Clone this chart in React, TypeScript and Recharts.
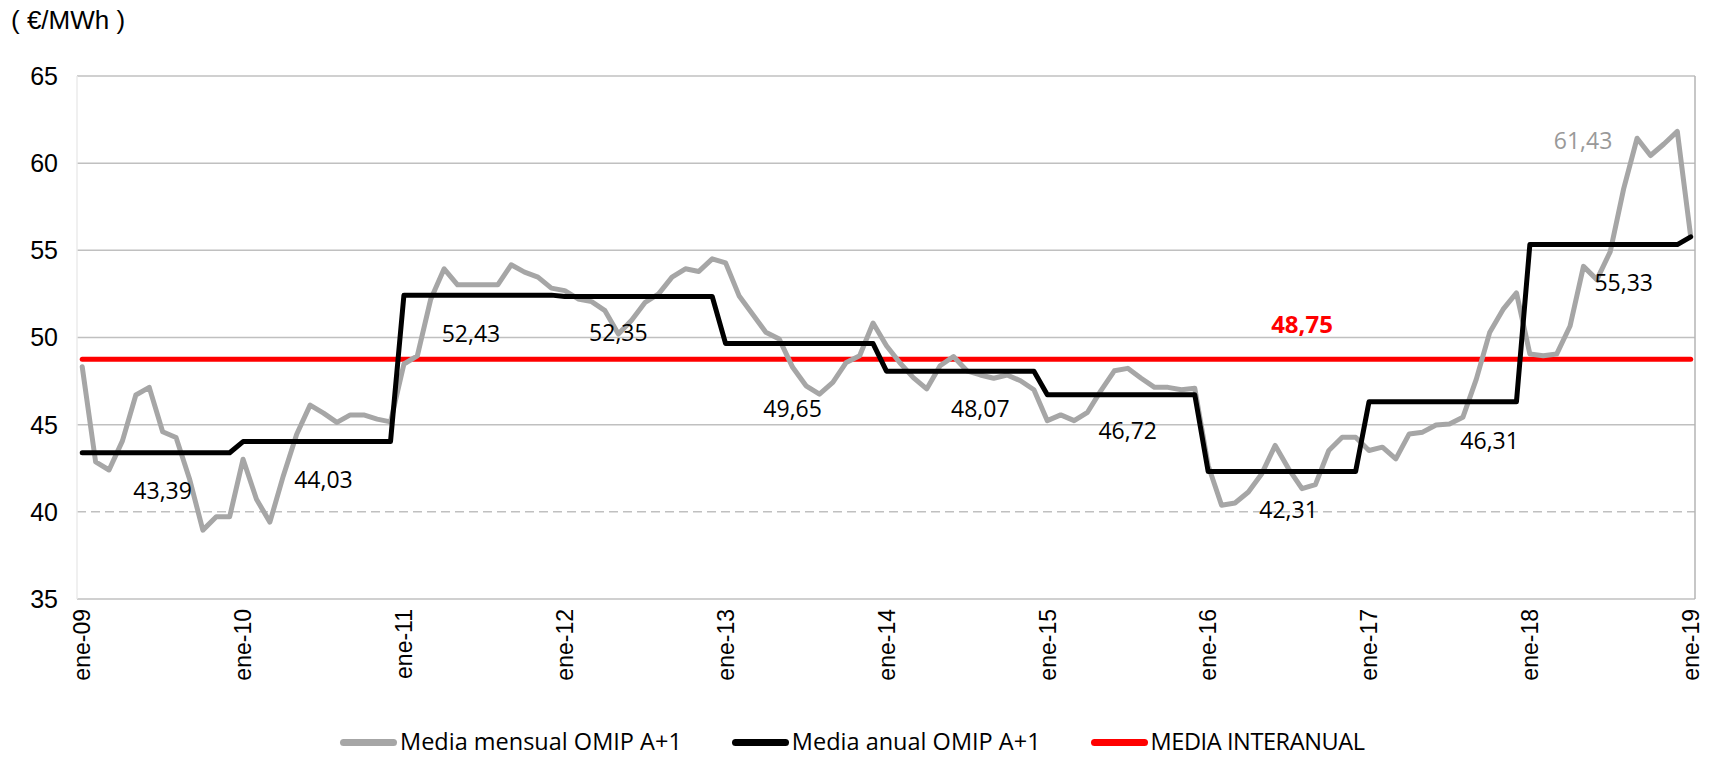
import { LineChart, Line, XAxis, YAxis, CartesianGrid, ReferenceLine, ReferenceDot, LabelList } from 'recharts';

// x axis: one tick per January
const tickIndex = [0, 12, 24, 36, 48, 60, 72, 84, 96, 108, 120];
const tickLabels = ['ene-09', 'ene-10', 'ene-11', 'ene-12', 'ene-13', 'ene-14', 'ene-15', 'ene-16', 'ene-17', 'ene-18', 'ene-19'];

// Media anual OMIP A+1, 2009 .. 2019
const annualMean = [43.39, 44.03, 52.43, 52.35, 49.65, 48.07, 46.72, 42.31, 46.31, 55.33, 55.77];

// Media mensual OMIP A+1, ene-09 .. ene-19
const monthlyMean = [
  48.32, 42.86, 42.4, 44.07, 46.7, 47.14, 44.59, 44.26, 41.9, 38.95, 39.72, 39.72,
  43.02, 40.72, 39.41, 42.06, 44.45, 46.12, 45.66, 45.13, 45.56, 45.56, 45.32, 45.16,
  48.48, 48.95, 52.2, 53.94, 53.02, 53.02, 53.02, 53.02, 54.17, 53.75, 53.46, 52.83,
  52.69, 52.21, 52.06, 51.54, 50.2, 51.0, 52.02, 52.5, 53.46, 53.94, 53.79, 54.51,
  54.28, 52.4, 51.35, 50.3, 49.91, 48.29, 47.23, 46.75, 47.42, 48.57, 48.95, 50.83,
  49.53, 48.55, 47.7, 47.05, 48.38, 48.91, 48.09, 47.85, 47.66, 47.85, 47.52, 47.0,
  45.23, 45.56, 45.23, 45.71, 46.95, 48.09, 48.23, 47.66, 47.14, 47.14, 47.0, 47.09,
  42.66, 40.38, 40.51, 41.14, 42.19, 43.81, 42.47, 41.33, 41.56, 43.52, 44.28, 44.28,
  43.52, 43.71, 43.04, 44.47, 44.57, 44.98, 45.04, 45.42, 47.6, 50.28, 51.61, 52.56,
  49.05, 48.95, 49.05, 50.66, 54.08, 53.32, 54.93, 58.54, 61.43, 60.44, 61.1, 61.82,
  55.79,
];

const interanualMean = 48.75;

// where the value labels sit (month index) and how far below the line
const annualLabelAt = [6, 18, 29, 40, 53, 67, 78, 90, 105, 115];
const annualLabelDy = [46, 46, 47, 44, 73, 46, 44, 46, 47, 46];
const monthlyLabelAt = 116;

const data = monthlyMean.map((v, i) => ({ i, mensual: v, anual: annualMean[Math.floor(i / 12)] }));

const fmt = (v: number) => v.toFixed(2).replace('.', ',');

const GRAY = '#a6a6a6';
const GRID = '#c0c0c0';

const AnnualLabel = (props: any) => {
  const k = annualLabelAt.indexOf(props.index);
  if (k < 0) return null;
  const x = props.x ?? props.viewBox?.x;
  const y = props.y ?? props.viewBox?.y;
  return (
    <text x={x} y={y + annualLabelDy[k]} textAnchor="middle" fontFamily="Open Sans" fontSize={23} fill="#000">
      {fmt(props.value)}
    </text>
  );
};

const MonthlyLabel = (props: any) => {
  if (props.index !== monthlyLabelAt) return null;
  const x = props.x ?? props.viewBox?.x;
  const y = props.y ?? props.viewBox?.y;
  return (
    <text x={x - 54} y={y + 11} textAnchor="middle" fontFamily="Open Sans" fontSize={23} fill="#999999">
      {fmt(props.value)}
    </text>
  );
};

const InteranualLabel = (props: any) => {
  const vb = props.viewBox || {};
  return (
    <text x={vb.x} y={vb.y - 26} textAnchor="middle" fontFamily="Open Sans" fontWeight={700} fontSize={24} fill="#ff0000">
      {fmt(interanualMean)}
    </text>
  );
};

const MonthTick = (props: any) => {
  const { x, y, payload } = props;
  const k = tickIndex.indexOf(payload.value);
  return (
    <text
      x={x}
      y={y}
      transform={`rotate(-90 ${x} ${y})`}
      textAnchor="end"
      dy="0.36em"
      fontFamily="Liberation Sans, Arial"
      fontSize={23}
      fill="#000"
    >
      {tickLabels[k]}
    </text>
  );
};

const legendItems = [
  { name: 'Media mensual OMIP A+1', color: GRAY },
  { name: 'Media anual OMIP A+1', color: '#000000' },
  { name: 'MEDIA INTERANUAL', color: '#ff0000' },
];

export default function App() {
  return (
    <div style={{ position: 'absolute', left: 0, top: 0, width: 1717, height: 760, background: '#fff' }}>
      <div
        style={{
          position: 'absolute',
          left: 11,
          top: 5,
          fontFamily: 'Liberation Sans, Arial',
          fontSize: 26,
          color: '#000',
          whiteSpace: 'pre',
        }}
      >
        ( €/MWh )
      </div>

      <LineChart width={1717} height={760} data={data} margin={{ top: 76, right: 22, left: 0, bottom: 71 }}>
        <CartesianGrid vertical={false} horizontalValues={[35, 45, 50, 55, 60, 65]} stroke={GRID} strokeWidth={1.5} />
        <ReferenceLine y={40} stroke={GRID} strokeWidth={1.5} strokeDasharray="9 5" />
        <ReferenceLine x={-0.39} stroke="#ebebeb" strokeWidth={1.5} />
        <ReferenceLine x={120.32} stroke="#b4b4b4" strokeWidth={1.5} />
        <XAxis
          dataKey="i"
          type="number"
          domain={[-0.39, 120.32]}
          ticks={tickIndex}
          interval={0}
          axisLine={false}
          tickLine={false}
          tickSize={0}
          tickMargin={10}
          height={90}
          tick={<MonthTick />}
        />
        <YAxis
          domain={[35, 65]}
          ticks={[35, 40, 45, 50, 55, 60, 65]}
          axisLine={false}
          tickLine={false}
          tickSize={0}
          tickMargin={19}
          width={77}
          tick={{ fontFamily: 'Liberation Sans, Arial', fontSize: 25, fill: '#000' }}
        />
        <ReferenceLine
          segment={[{ x: 0, y: interanualMean }, { x: 120, y: interanualMean }]}
          stroke="#ff0000"
          strokeWidth={5}
          strokeLinecap="round"
        />
        <Line
          dataKey="mensual"
          stroke={GRAY}
          strokeWidth={5}
          strokeLinejoin="round"
          strokeLinecap="round"
          dot={false}
          isAnimationActive={false}
        >
          <LabelList dataKey="mensual" content={MonthlyLabel} />
        </Line>
        <Line
          dataKey="anual"
          stroke="#000000"
          strokeWidth={5}
          strokeLinejoin="round"
          strokeLinecap="round"
          dot={false}
          isAnimationActive={false}
        >
          <LabelList dataKey="anual" content={AnnualLabel} />
        </Line>
        <ReferenceDot x={91} y={interanualMean} r={0} fill="none" stroke="none" label={<InteranualLabel />} />
      </LineChart>

      <div
        style={{
          position: 'absolute',
          left: 340,
          top: 727,
          height: 30,
          display: 'flex',
          alignItems: 'center',
          fontFamily: 'Open Sans',
          fontSize: 23.5,
          color: '#000',
        }}
      >
        {legendItems.map((it, n) => (
          <div key={it.name} style={{ display: 'flex', alignItems: 'center', marginLeft: n === 0 ? 0 : 50 }}>
            <span style={{ display: 'inline-block', width: 57, height: 7, borderRadius: 4, background: it.color, marginRight: 3 }} />
            <span style={{ lineHeight: 1, letterSpacing: n === 2 ? -0.4 : 0 }}>{it.name}</span>
          </div>
        ))}
      </div>
    </div>
  );
}
